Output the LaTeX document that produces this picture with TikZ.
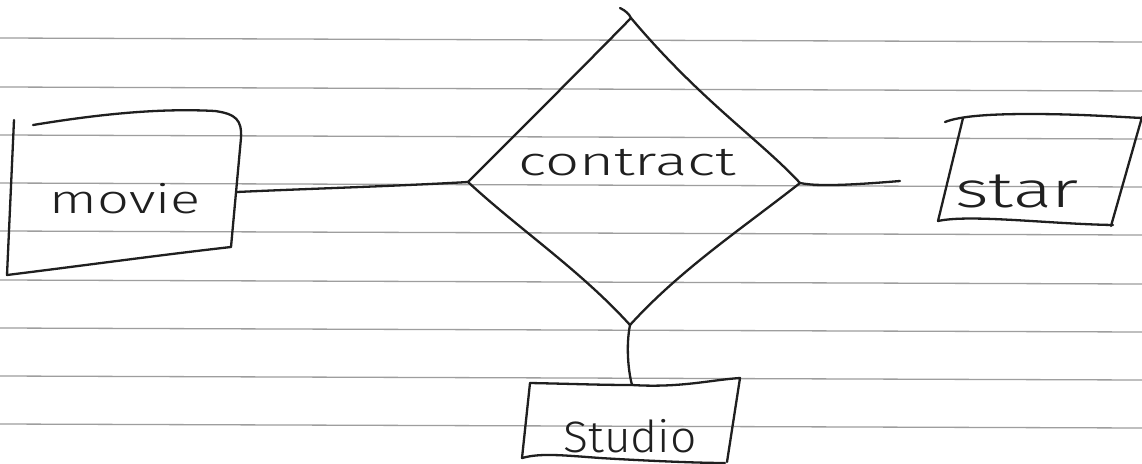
\documentclass[tikz,border=0pt]{standalone}
\usepackage{graphicx}
\usepackage{fontspec}
\setmainfont{Fira Sans}[UprightFont=* Light]
\begin{document}
\begin{tikzpicture}[x=1pt,y=-1pt,
  ruled/.style={draw=black!38,line width=1.3pt},
  pen/.style={draw=black!88,line width=2.3pt,line cap=round,line join=round},
  hand/.style={inner sep=0pt,anchor=base,text=black!88}]
\useasboundingbox (0,0) rectangle (1142,463);
\fill[white] (0,0) rectangle (1142,463);

% ruled notebook paper
\foreach \y in {38,87,135,183,231,280,328,376,424}
  \draw[ruled] (0,\y) -- (1142,\y+4);

% anchor points of the sketched shapes
\coordinate (movieE) at (237,192);
\coordinate (relW) at (468,182);
\coordinate (relE) at (800,183);
\coordinate (relN) at (631,18);
\coordinate (relS) at (630,325);
\coordinate (starW) at (952,172);
\coordinate (studioN) at (632,385);

% movie entity
\draw[pen] (14,120) -- (7,275) .. controls (80,266) and (160,255) .. (231,247)
  -- (241,138) .. controls (242,120) and (236,114) .. (215,111)
  .. controls (160,108) and (100,114) .. (33,125);
\node[hand] (movie) at (125,213) {\fontsize{40}{40}\selectfont\scalebox{1.4}[1]{movie}};

% contract relationship
\draw[pen] (620,8) .. controls (626,11) and (629,14) .. (relN)
  .. controls (700,100) and (760,140) .. (relE)
  .. controls (740,230) and (680,270) .. (relS)
  .. controls (580,270) and (520,230) .. (relW)
  .. controls (530,120) and (590,60) .. (relN);
\node[hand] (contract) at (627,175) {\fontsize{40}{40}\selectfont\scalebox{1.5}[1]{contract}};

% star entity
\draw[pen] (945,122) .. controls (960,116) and (990,114) .. (1030,114)
  .. controls (1080,114) and (1120,117) .. (1142,118);
\draw[pen] (963,118) -- (938,221) .. controls (970,214) and (1050,224) .. (1113,225);
\draw[pen] (1142,117) -- (1111,226);
\node[hand] (star) at (1017,207) {\fontsize{50}{50}\selectfont\scalebox{1.45}[1]{star}};

% studio entity
\draw[pen] (530,383) .. controls (580,384) and (600,385) .. (studioN)
  .. controls (680,388) and (710,380) .. (740,378) -- (727,462);
\draw[pen] (530,383) -- (522,458) .. controls (540,453) and (560,455) .. (600,458)
  .. controls (650,461) and (700,463) .. (725,463);
\node[hand] (studio) at (630,452) {\fontsize{44}{44}\selectfont\scalebox{1.05}[1]{Studio}};

% connectors
\draw[pen] (movieE) .. controls (300,189) and (400,186) .. (relW);
\draw[pen] (relE) .. controls (815,186) and (840,186) .. (900,181);
\draw[pen] (relS) .. controls (626,345) and (628,370) .. (studioN);
\end{tikzpicture}
\end{document}
